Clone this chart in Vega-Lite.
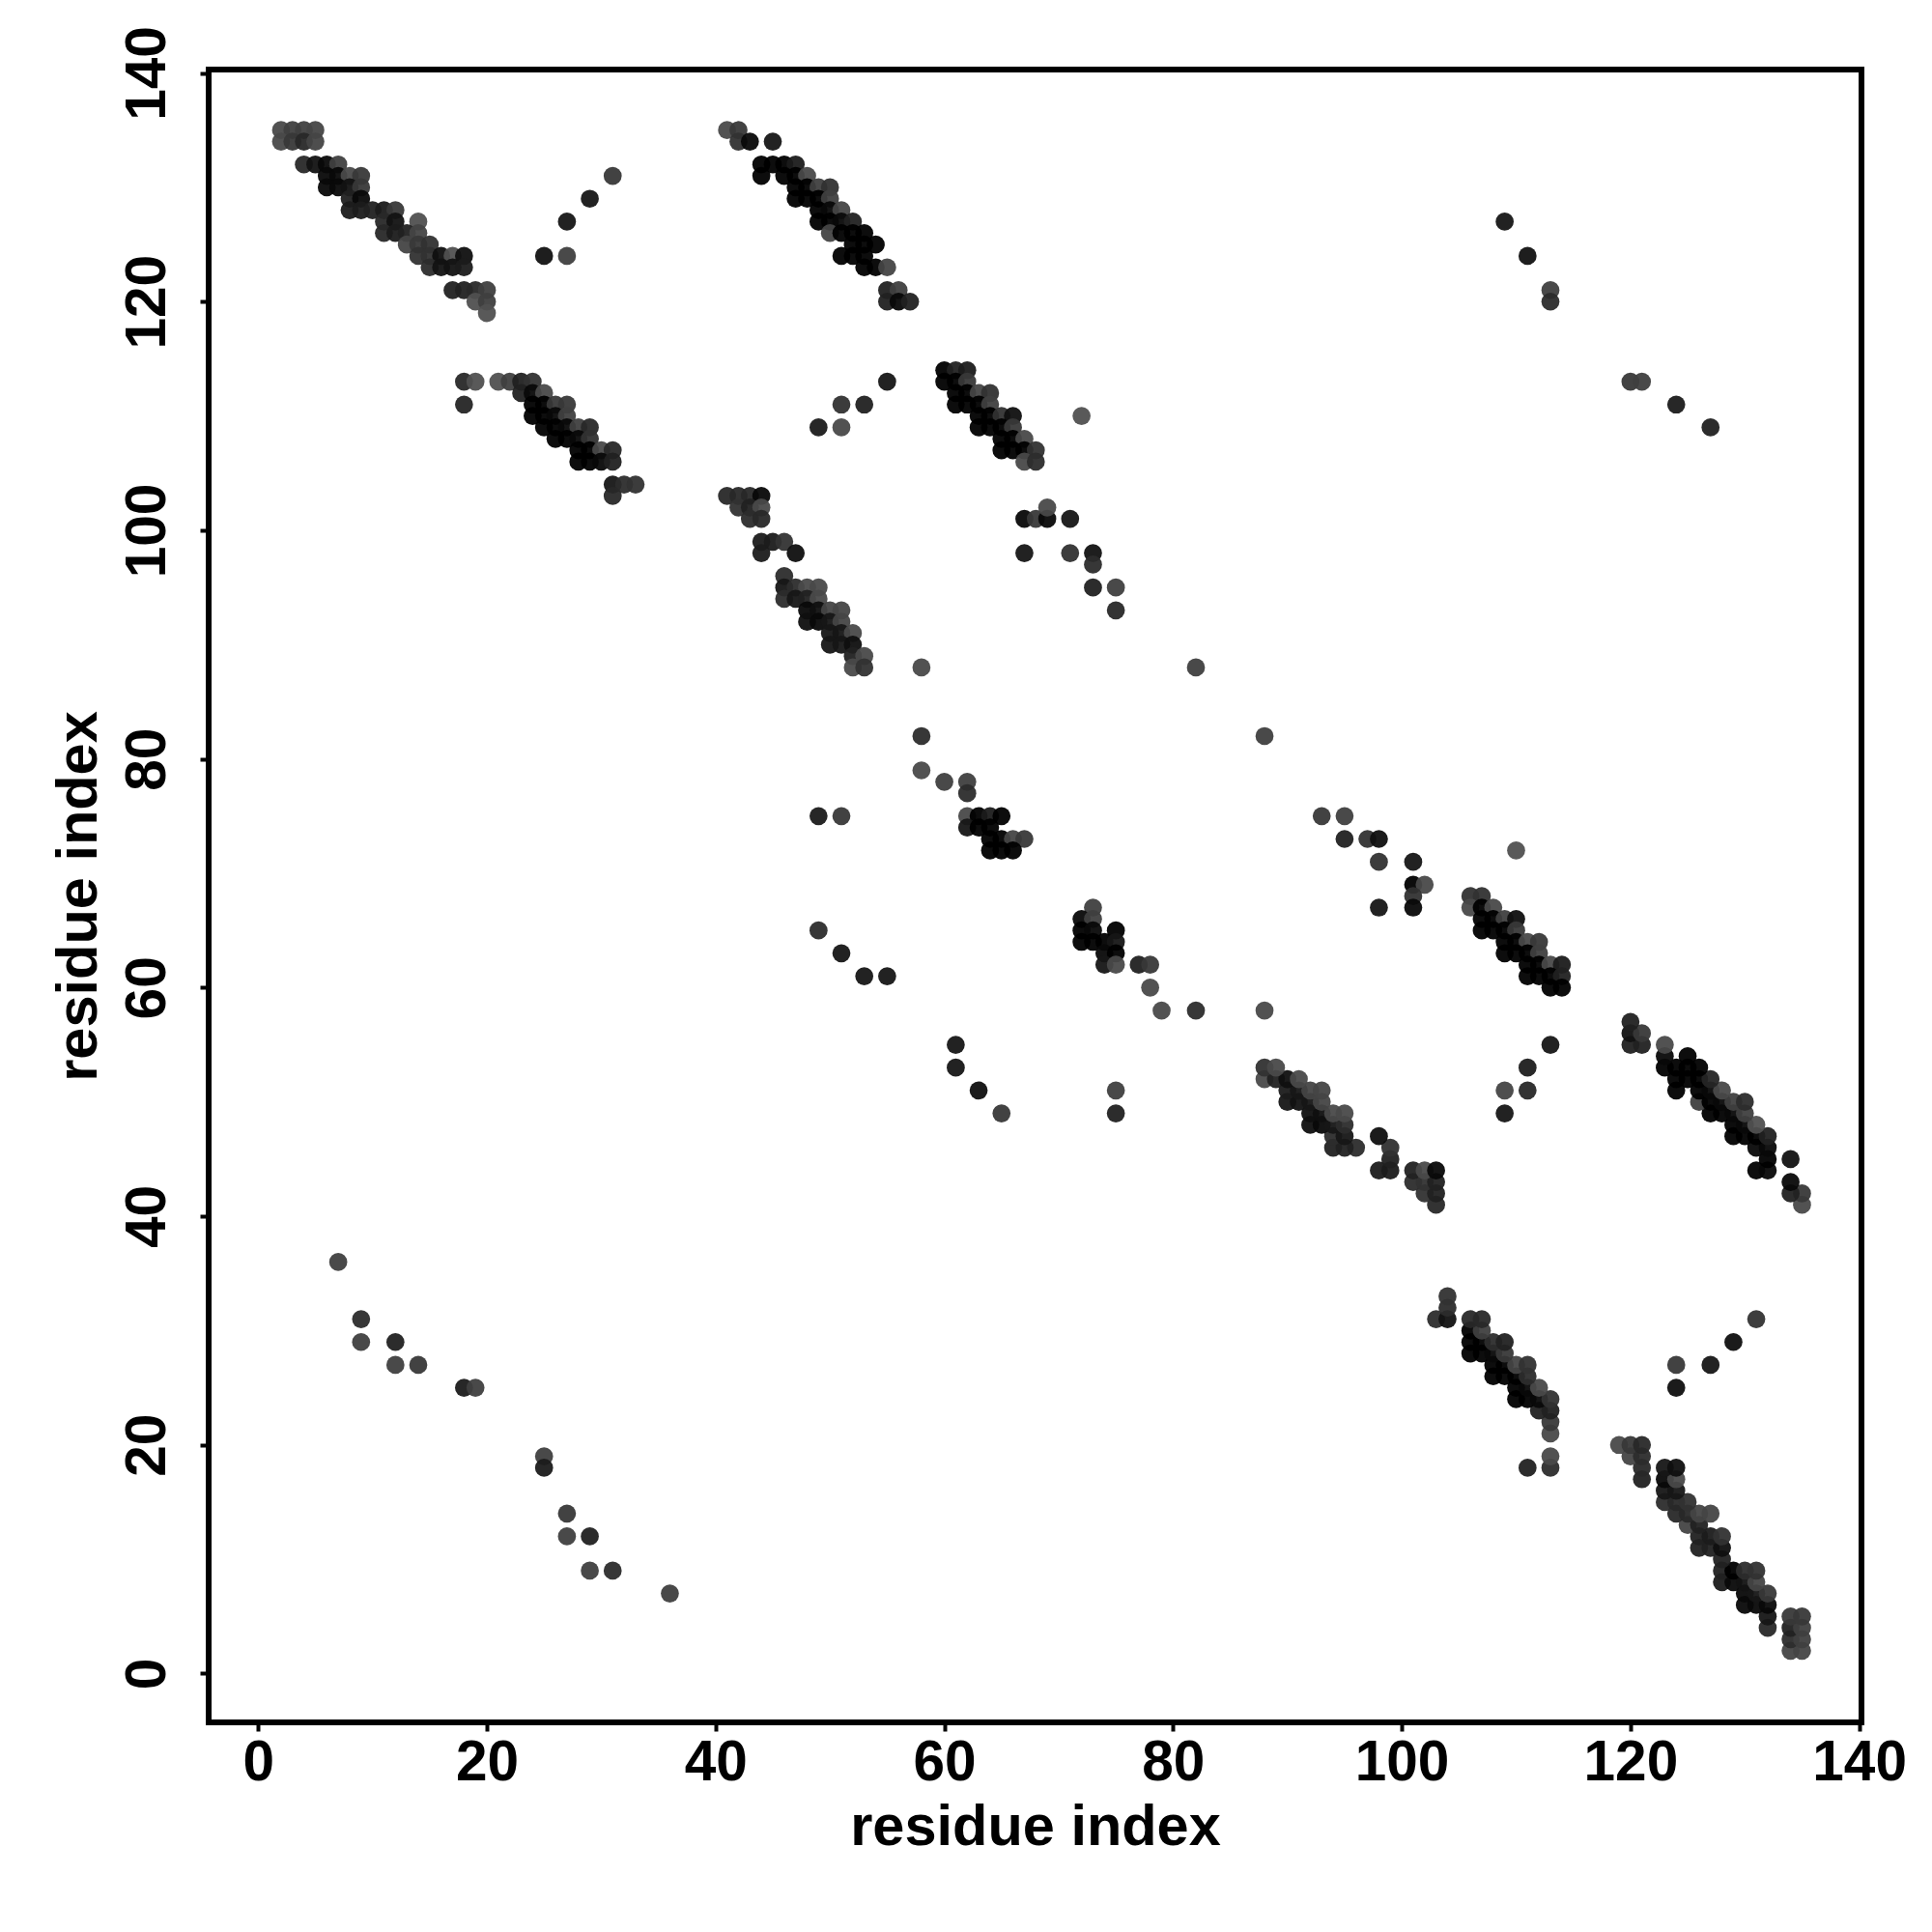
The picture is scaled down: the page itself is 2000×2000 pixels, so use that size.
{"$schema":"https://vega.github.io/schema/vega-lite/v6.json","width":1711,"height":1711,"autosize":{"type":"none"},"padding":{"left":216,"top":72,"right":73,"bottom":217},"background":"white","config":{"view":{"stroke":"black","strokeWidth":6,"fill":"white"}},
"data":{"values":[
{"x":2,"y":135,"p":0.68},{"x":3,"y":135,"p":0.72},{"x":4,"y":135,"p":0.72},{"x":5,"y":135,"p":0.7},{"x":2,"y":134,"p":0.68},{"x":3,"y":134,"p":0.75},{"x":4,"y":134,"p":0.82},{"x":5,"y":134,"p":0.7},
{"x":4,"y":132,"p":0.82},{"x":5,"y":132,"p":0.92},{"x":6,"y":132,"p":0.95},{"x":7,"y":132,"p":0.72},{"x":6,"y":131,"p":0.95},{"x":7,"y":131,"p":0.95},{"x":8,"y":131,"p":0.68},{"x":9,"y":131,"p":0.75},{"x":6,"y":130,"p":0.95},{"x":7,"y":130,"p":0.95},{"x":8,"y":130,"p":0.92},{"x":9,"y":130,"p":0.75},{"x":8,"y":129,"p":0.85},{"x":9,"y":129,"p":0.95},
{"x":8,"y":128,"p":0.88},{"x":9,"y":128,"p":0.88},{"x":10,"y":128,"p":0.85},{"x":11,"y":128,"p":0.88},{"x":12,"y":128,"p":0.75},{"x":11,"y":127,"p":0.82},{"x":12,"y":127,"p":0.92},{"x":14,"y":127,"p":0.65},{"x":11,"y":126,"p":0.82},{"x":12,"y":126,"p":0.88},{"x":13,"y":126,"p":0.85},{"x":14,"y":126,"p":0.7},{"x":13,"y":125,"p":0.7},{"x":14,"y":125,"p":0.75},{"x":15,"y":125,"p":0.78},
{"x":14,"y":124,"p":0.78},{"x":15,"y":124,"p":0.78},{"x":16,"y":124,"p":0.93},{"x":17,"y":124,"p":0.65},{"x":18,"y":124,"p":0.93},{"x":15,"y":123,"p":0.8},{"x":16,"y":123,"p":0.92},{"x":17,"y":123,"p":0.92},{"x":18,"y":123,"p":0.88},
{"x":17,"y":121,"p":0.85},{"x":18,"y":121,"p":0.85},{"x":19,"y":121,"p":0.82},{"x":20,"y":121,"p":0.72},{"x":19,"y":120,"p":0.65},{"x":20,"y":120,"p":0.72},{"x":20,"y":119,"p":0.65},
{"x":31,"y":131,"p":0.75},{"x":29,"y":129,"p":0.9},{"x":27,"y":127,"p":0.9},{"x":25,"y":124,"p":0.92},{"x":27,"y":124,"p":0.72},
{"x":18,"y":113,"p":0.82},{"x":19,"y":113,"p":0.65},{"x":21,"y":113,"p":0.65},{"x":22,"y":113,"p":0.72},{"x":23,"y":113,"p":0.85},{"x":24,"y":113,"p":0.78},{"x":18,"y":111,"p":0.83},{"x":23,"y":112,"p":0.85},{"x":24,"y":112,"p":0.95},{"x":25,"y":112,"p":0.68},{"x":24,"y":111,"p":0.97},{"x":25,"y":111,"p":0.97},{"x":26,"y":111,"p":0.75},{"x":27,"y":111,"p":0.75},{"x":24,"y":110,"p":0.97},{"x":25,"y":110,"p":0.97},{"x":26,"y":110,"p":0.95},{"x":27,"y":110,"p":0.72},
{"x":25,"y":109,"p":0.97},{"x":26,"y":109,"p":0.97},{"x":27,"y":109,"p":0.95},{"x":28,"y":109,"p":0.72},{"x":29,"y":109,"p":0.82},{"x":26,"y":108,"p":0.97},{"x":27,"y":108,"p":0.97},{"x":28,"y":108,"p":0.95},{"x":29,"y":108,"p":0.78},{"x":28,"y":107,"p":0.97},{"x":29,"y":107,"p":0.97},{"x":30,"y":107,"p":0.68},{"x":31,"y":107,"p":0.82},{"x":28,"y":106,"p":0.97},{"x":29,"y":106,"p":0.97},{"x":30,"y":106,"p":0.95},{"x":31,"y":106,"p":0.85},{"x":31,"y":104,"p":0.9},{"x":32,"y":104,"p":0.8},{"x":33,"y":104,"p":0.78},{"x":31,"y":103,"p":0.82},
{"x":41,"y":135,"p":0.68},{"x":42,"y":135,"p":0.75},{"x":42,"y":134,"p":0.78},{"x":43,"y":134,"p":0.95},{"x":45,"y":134,"p":0.9},{"x":44,"y":132,"p":0.97},{"x":45,"y":132,"p":0.97},{"x":46,"y":132,"p":0.97},{"x":47,"y":132,"p":0.88},{"x":44,"y":131,"p":0.97},{"x":46,"y":131,"p":0.97},{"x":47,"y":131,"p":0.97},{"x":48,"y":131,"p":0.68},{"x":47,"y":130,"p":0.97},{"x":48,"y":130,"p":0.97},{"x":49,"y":130,"p":0.72},{"x":50,"y":130,"p":0.78},{"x":47,"y":129,"p":0.97},{"x":48,"y":129,"p":0.97},{"x":49,"y":129,"p":0.97},{"x":50,"y":129,"p":0.72},
{"x":49,"y":128,"p":0.97},{"x":50,"y":128,"p":0.95},{"x":51,"y":128,"p":0.7},{"x":49,"y":127,"p":0.97},{"x":50,"y":127,"p":0.97},{"x":51,"y":127,"p":0.95},{"x":52,"y":127,"p":0.85},{"x":50,"y":126,"p":0.7},{"x":51,"y":126,"p":0.97},{"x":52,"y":126,"p":0.97},{"x":53,"y":126,"p":0.97},{"x":52,"y":125,"p":0.97},{"x":53,"y":125,"p":0.97},{"x":54,"y":125,"p":0.97},{"x":51,"y":124,"p":0.97},{"x":52,"y":124,"p":0.97},{"x":53,"y":124,"p":0.97},{"x":53,"y":123,"p":0.97},{"x":54,"y":123,"p":0.97},{"x":55,"y":123,"p":0.7},{"x":55,"y":121,"p":0.85},{"x":56,"y":121,"p":0.72},{"x":55,"y":120,"p":0.85},{"x":56,"y":120,"p":0.95},{"x":57,"y":120,"p":0.85},
{"x":55,"y":113,"p":0.9},{"x":51,"y":111,"p":0.78},{"x":53,"y":111,"p":0.85},{"x":49,"y":109,"p":0.88},{"x":51,"y":109,"p":0.68},{"x":72,"y":110,"p":0.65},
{"x":60,"y":114,"p":0.97},{"x":61,"y":114,"p":0.85},{"x":62,"y":114,"p":0.88},{"x":60,"y":113,"p":0.97},{"x":61,"y":113,"p":0.97},{"x":62,"y":113,"p":0.75},{"x":61,"y":112,"p":0.97},{"x":62,"y":112,"p":0.97},{"x":63,"y":112,"p":0.7},{"x":64,"y":112,"p":0.78},{"x":61,"y":111,"p":0.97},{"x":62,"y":111,"p":0.97},{"x":63,"y":111,"p":0.97},{"x":64,"y":111,"p":0.72},{"x":63,"y":110,"p":0.97},{"x":64,"y":110,"p":0.97},{"x":65,"y":110,"p":0.78},{"x":66,"y":110,"p":0.93},{"x":63,"y":109,"p":0.97},{"x":64,"y":109,"p":0.97},{"x":65,"y":109,"p":0.97},{"x":66,"y":109,"p":0.75},{"x":65,"y":108,"p":0.97},{"x":66,"y":108,"p":0.97},{"x":67,"y":108,"p":0.68},{"x":65,"y":107,"p":0.97},{"x":66,"y":107,"p":0.97},{"x":67,"y":107,"p":0.97},{"x":68,"y":107,"p":0.78},{"x":67,"y":106,"p":0.68},{"x":68,"y":106,"p":0.8},
{"x":41,"y":103,"p":0.82},{"x":42,"y":103,"p":0.82},{"x":43,"y":103,"p":0.82},{"x":44,"y":103,"p":0.95},{"x":42,"y":102,"p":0.78},{"x":43,"y":102,"p":0.85},{"x":44,"y":102,"p":0.68},{"x":43,"y":101,"p":0.8},{"x":44,"y":101,"p":0.82},{"x":44,"y":99,"p":0.88},{"x":45,"y":99,"p":0.88},{"x":46,"y":99,"p":0.77},{"x":44,"y":98,"p":0.88},{"x":47,"y":98,"p":0.93},
{"x":67,"y":101,"p":0.95},{"x":68,"y":101,"p":0.75},{"x":69,"y":101,"p":0.95},{"x":71,"y":101,"p":0.9},{"x":69,"y":102,"p":0.68},{"x":67,"y":98,"p":0.9},{"x":71,"y":98,"p":0.78},{"x":73,"y":98,"p":0.92},{"x":73,"y":97,"p":0.8},{"x":73,"y":95,"p":0.85},{"x":75,"y":95,"p":0.72},{"x":75,"y":93,"p":0.82},
{"x":46,"y":96,"p":0.8},{"x":46,"y":95,"p":0.9},{"x":47,"y":95,"p":0.8},{"x":48,"y":95,"p":0.68},{"x":49,"y":95,"p":0.68},{"x":46,"y":94,"p":0.8},{"x":47,"y":94,"p":0.9},{"x":48,"y":94,"p":0.85},{"x":49,"y":94,"p":0.68},{"x":48,"y":93,"p":0.95},{"x":49,"y":93,"p":0.93},{"x":50,"y":93,"p":0.7},{"x":51,"y":93,"p":0.7},{"x":48,"y":92,"p":0.93},{"x":49,"y":92,"p":0.95},{"x":50,"y":92,"p":0.9},{"x":51,"y":92,"p":0.7},{"x":50,"y":91,"p":0.9},{"x":51,"y":91,"p":0.9},{"x":52,"y":91,"p":0.68},{"x":50,"y":90,"p":0.9},{"x":51,"y":90,"p":0.9},{"x":52,"y":90,"p":0.93},{"x":52,"y":89,"p":0.85},{"x":53,"y":89,"p":0.68},{"x":52,"y":88,"p":0.68},{"x":53,"y":88,"p":0.78},
{"x":58,"y":88,"p":0.68},{"x":82,"y":88,"p":0.72},{"x":58,"y":82,"p":0.8},{"x":58,"y":79,"p":0.68},{"x":60,"y":78,"p":0.72},{"x":62,"y":78,"p":0.72},{"x":62,"y":77,"p":0.8},{"x":49,"y":75,"p":0.88},{"x":51,"y":75,"p":0.75},{"x":62,"y":75,"p":0.68},{"x":63,"y":75,"p":0.97},{"x":64,"y":75,"p":0.88},{"x":65,"y":75,"p":0.97},{"x":62,"y":74,"p":0.9},{"x":63,"y":74,"p":0.97},{"x":64,"y":74,"p":0.97},{"x":64,"y":73,"p":0.97},{"x":65,"y":73,"p":0.97},{"x":66,"y":73,"p":0.7},{"x":67,"y":73,"p":0.75},{"x":64,"y":72,"p":0.97},{"x":65,"y":72,"p":0.97},{"x":66,"y":72,"p":0.97},{"x":49,"y":65,"p":0.8},{"x":51,"y":63,"p":0.9},{"x":53,"y":61,"p":0.9},{"x":55,"y":61,"p":0.9},
{"x":134,"y":2,"p":0.7},{"x":135,"y":2,"p":0.7},{"x":134,"y":3,"p":0.8},{"x":135,"y":3,"p":0.72},{"x":134,"y":4,"p":0.85},{"x":135,"y":4,"p":0.72},{"x":132,"y":4,"p":0.82},{"x":132,"y":5,"p":0.9},{"x":134,"y":5,"p":0.75},{"x":135,"y":5,"p":0.75},{"x":130,"y":6,"p":0.95},{"x":131,"y":6,"p":0.95},{"x":132,"y":6,"p":0.95},{"x":130,"y":7,"p":0.95},{"x":131,"y":7,"p":0.9},{"x":132,"y":7,"p":0.75},{"x":128,"y":8,"p":0.88},{"x":129,"y":8,"p":0.95},{"x":130,"y":8,"p":0.92},{"x":131,"y":8,"p":0.7},{"x":128,"y":9,"p":0.85},{"x":129,"y":9,"p":0.97},{"x":130,"y":9,"p":0.8},{"x":131,"y":9,"p":0.78},{"x":128,"y":10,"p":0.85},{"x":126,"y":11,"p":0.85},{"x":127,"y":11,"p":0.85},{"x":128,"y":11,"p":0.93},{"x":126,"y":12,"p":0.85},{"x":127,"y":12,"p":0.88},{"x":128,"y":12,"p":0.78},{"x":125,"y":13,"p":0.7},{"x":126,"y":13,"p":0.85},{"x":124,"y":14,"p":0.82},{"x":125,"y":14,"p":0.82},{"x":126,"y":14,"p":0.7},{"x":127,"y":14,"p":0.7},{"x":123,"y":15,"p":0.8},{"x":124,"y":15,"p":0.82},{"x":125,"y":15,"p":0.78},{"x":123,"y":16,"p":0.9},{"x":124,"y":16,"p":0.9},{"x":123,"y":17,"p":0.95},{"x":124,"y":17,"p":0.68},{"x":121,"y":17,"p":0.85},{"x":121,"y":18,"p":0.82},{"x":123,"y":18,"p":0.9},{"x":124,"y":18,"p":0.93},{"x":120,"y":19,"p":0.7},{"x":121,"y":19,"p":0.8},{"x":119,"y":20,"p":0.68},{"x":120,"y":20,"p":0.75},{"x":121,"y":20,"p":0.82},
{"x":131,"y":31,"p":0.77},{"x":129,"y":29,"p":0.93},{"x":127,"y":27,"p":0.9},{"x":124,"y":27,"p":0.75},{"x":124,"y":25,"p":0.93},
{"x":113,"y":18,"p":0.8},{"x":111,"y":18,"p":0.85},{"x":113,"y":19,"p":0.68},{"x":113,"y":21,"p":0.68},{"x":113,"y":22,"p":0.75},{"x":112,"y":23,"p":0.85},{"x":113,"y":23,"p":0.85},{"x":110,"y":24,"p":0.97},{"x":111,"y":24,"p":0.97},{"x":112,"y":24,"p":0.95},{"x":113,"y":24,"p":0.78},{"x":110,"y":25,"p":0.97},{"x":111,"y":25,"p":0.95},{"x":112,"y":25,"p":0.68},{"x":108,"y":26,"p":0.97},{"x":109,"y":26,"p":0.97},{"x":110,"y":26,"p":0.97},{"x":111,"y":26,"p":0.8},{"x":108,"y":27,"p":0.97},{"x":109,"y":27,"p":0.97},{"x":110,"y":27,"p":0.7},{"x":111,"y":27,"p":0.78},{"x":106,"y":28,"p":0.97},{"x":107,"y":28,"p":0.97},{"x":108,"y":28,"p":0.95},{"x":109,"y":28,"p":0.75},{"x":106,"y":29,"p":0.97},{"x":107,"y":29,"p":0.97},{"x":108,"y":29,"p":0.8},{"x":109,"y":29,"p":0.85},{"x":106,"y":30,"p":0.97},{"x":107,"y":30,"p":0.72},{"x":106,"y":31,"p":0.82},{"x":107,"y":31,"p":0.82},{"x":103,"y":31,"p":0.8},{"x":104,"y":31,"p":0.92},{"x":104,"y":32,"p":0.8},{"x":104,"y":33,"p":0.78},
{"x":135,"y":41,"p":0.68},{"x":135,"y":42,"p":0.75},{"x":134,"y":42,"p":0.85},{"x":134,"y":43,"p":0.95},{"x":134,"y":45,"p":0.92},{"x":131,"y":44,"p":0.97},{"x":132,"y":44,"p":0.95},{"x":132,"y":45,"p":0.97},{"x":131,"y":46,"p":0.95},{"x":132,"y":46,"p":0.95},{"x":129,"y":47,"p":0.97},{"x":130,"y":47,"p":0.97},{"x":131,"y":47,"p":0.97},{"x":132,"y":47,"p":0.85},{"x":129,"y":48,"p":0.97},{"x":130,"y":48,"p":0.95},{"x":131,"y":48,"p":0.65},{"x":127,"y":49,"p":0.97},{"x":128,"y":49,"p":0.97},{"x":129,"y":49,"p":0.95},{"x":130,"y":49,"p":0.72},{"x":126,"y":50,"p":0.72},{"x":127,"y":50,"p":0.97},{"x":128,"y":50,"p":0.95},{"x":129,"y":50,"p":0.72},{"x":130,"y":50,"p":0.8},{"x":124,"y":51,"p":0.97},{"x":126,"y":51,"p":0.97},{"x":127,"y":51,"p":0.95},{"x":128,"y":51,"p":0.68},{"x":124,"y":52,"p":0.97},{"x":125,"y":52,"p":0.97},{"x":126,"y":52,"p":0.97},{"x":127,"y":52,"p":0.83},{"x":123,"y":53,"p":0.97},{"x":124,"y":53,"p":0.97},{"x":125,"y":53,"p":0.97},{"x":126,"y":53,"p":0.97},{"x":123,"y":54,"p":0.95},{"x":125,"y":54,"p":0.97},{"x":123,"y":55,"p":0.68},{"x":120,"y":55,"p":0.85},{"x":121,"y":55,"p":0.85},{"x":120,"y":56,"p":0.92},{"x":121,"y":56,"p":0.75},{"x":120,"y":57,"p":0.85},
{"x":113,"y":55,"p":0.9},{"x":111,"y":53,"p":0.87},{"x":109,"y":51,"p":0.7},{"x":111,"y":51,"p":0.82},{"x":109,"y":49,"p":0.9},{"x":110,"y":72,"p":0.65},
{"x":106,"y":68,"p":0.78},{"x":107,"y":68,"p":0.78},{"x":106,"y":67,"p":0.68},{"x":107,"y":67,"p":0.97},{"x":108,"y":67,"p":0.68},{"x":107,"y":66,"p":0.97},{"x":108,"y":66,"p":0.97},{"x":109,"y":66,"p":0.72},{"x":110,"y":66,"p":0.93},{"x":107,"y":65,"p":0.97},{"x":108,"y":65,"p":0.97},{"x":109,"y":65,"p":0.97},{"x":110,"y":65,"p":0.75},{"x":109,"y":64,"p":0.97},{"x":110,"y":64,"p":0.97},{"x":111,"y":64,"p":0.68},{"x":112,"y":64,"p":0.75},{"x":109,"y":63,"p":0.97},{"x":110,"y":63,"p":0.97},{"x":111,"y":63,"p":0.97},{"x":112,"y":63,"p":0.72},{"x":111,"y":62,"p":0.97},{"x":112,"y":62,"p":0.97},{"x":113,"y":62,"p":0.68},{"x":114,"y":62,"p":0.88},{"x":111,"y":61,"p":0.97},{"x":112,"y":61,"p":0.97},{"x":113,"y":61,"p":0.97},{"x":114,"y":61,"p":0.85},{"x":113,"y":60,"p":0.97},{"x":114,"y":60,"p":0.97},
{"x":103,"y":41,"p":0.82},{"x":102,"y":42,"p":0.78},{"x":103,"y":42,"p":0.85},{"x":101,"y":43,"p":0.8},{"x":102,"y":43,"p":0.78},{"x":103,"y":43,"p":0.85},{"x":101,"y":44,"p":0.85},{"x":102,"y":44,"p":0.68},{"x":103,"y":44,"p":0.95},{"x":98,"y":44,"p":0.88},{"x":99,"y":44,"p":0.88},{"x":99,"y":45,"p":0.85},{"x":99,"y":46,"p":0.78},{"x":98,"y":47,"p":0.93},
{"x":98,"y":71,"p":0.78},{"x":101,"y":71,"p":0.9},{"x":101,"y":69,"p":0.97},{"x":102,"y":69,"p":0.68},{"x":101,"y":68,"p":0.78},{"x":101,"y":67,"p":0.95},{"x":98,"y":67,"p":0.9},{"x":97,"y":73,"p":0.78},{"x":98,"y":73,"p":0.93},{"x":93,"y":75,"p":0.75},{"x":95,"y":75,"p":0.72},{"x":95,"y":73,"p":0.85},
{"x":96,"y":46,"p":0.8},{"x":94,"y":46,"p":0.85},{"x":95,"y":46,"p":0.85},{"x":94,"y":47,"p":0.8},{"x":95,"y":47,"p":0.9},{"x":92,"y":48,"p":0.93},{"x":93,"y":48,"p":0.95},{"x":94,"y":48,"p":0.9},{"x":95,"y":48,"p":0.8},{"x":92,"y":49,"p":0.93},{"x":93,"y":49,"p":0.93},{"x":94,"y":49,"p":0.68},{"x":95,"y":49,"p":0.68},{"x":90,"y":50,"p":0.9},{"x":91,"y":50,"p":0.92},{"x":92,"y":50,"p":0.9},{"x":93,"y":50,"p":0.7},{"x":90,"y":51,"p":0.88},{"x":91,"y":51,"p":0.9},{"x":92,"y":51,"p":0.7},{"x":93,"y":51,"p":0.7},{"x":88,"y":52,"p":0.68},{"x":89,"y":52,"p":0.85},{"x":90,"y":52,"p":0.93},{"x":91,"y":52,"p":0.68},{"x":88,"y":53,"p":0.78},{"x":89,"y":53,"p":0.68},
{"x":88,"y":58,"p":0.68},{"x":88,"y":82,"p":0.72},{"x":82,"y":58,"p":0.8},{"x":79,"y":58,"p":0.68},{"x":78,"y":60,"p":0.68},{"x":77,"y":62,"p":0.85},{"x":78,"y":62,"p":0.75},{"x":73,"y":67,"p":0.72},{"x":72,"y":66,"p":0.95},{"x":73,"y":66,"p":0.72},{"x":72,"y":65,"p":0.97},{"x":73,"y":65,"p":0.95},{"x":75,"y":65,"p":0.97},{"x":72,"y":64,"p":0.97},{"x":73,"y":64,"p":0.97},{"x":74,"y":64,"p":0.97},{"x":75,"y":64,"p":0.9},{"x":74,"y":63,"p":0.95},{"x":75,"y":63,"p":0.97},{"x":74,"y":62,"p":0.9},{"x":75,"y":62,"p":0.68},
{"x":61,"y":55,"p":0.9},{"x":61,"y":53,"p":0.9},{"x":63,"y":51,"p":0.93},{"x":65,"y":49,"p":0.75},{"x":75,"y":51,"p":0.72},{"x":75,"y":49,"p":0.85},
{"x":7,"y":36,"p":0.72},{"x":9,"y":31,"p":0.8},{"x":9,"y":29,"p":0.72},{"x":12,"y":29,"p":0.85},{"x":12,"y":27,"p":0.72},{"x":14,"y":27,"p":0.75},{"x":18,"y":25,"p":0.88},{"x":19,"y":25,"p":0.72},{"x":25,"y":19,"p":0.72},{"x":25,"y":18,"p":0.88},{"x":27,"y":14,"p":0.75},{"x":27,"y":12,"p":0.72},{"x":29,"y":12,"p":0.85},{"x":29,"y":9,"p":0.72},{"x":31,"y":9,"p":0.8},{"x":36,"y":7,"p":0.72},
{"x":109,"y":127,"p":0.9},{"x":111,"y":124,"p":0.92},{"x":113,"y":121,"p":0.72},{"x":113,"y":120,"p":0.8},{"x":120,"y":113,"p":0.75},{"x":121,"y":113,"p":0.72},{"x":124,"y":111,"p":0.88},{"x":127,"y":109,"p":0.85}
]},
"mark":{"type":"circle","size":350,"opacity":0.95,"clip":false},
"encoding":{
"x":{"field":"x","type":"quantitative","scale":{"domain":[-4.33,140.2],"nice":false,"zero":false},"axis":{"values":[0,20,40,60,80,100,120,140],"grid":false,"domain":false,"tickColor":"black","tickWidth":4,"tickSize":9,"labelFont":"Liberation Sans","labelFontWeight":"bold","labelFontSize":58.5,"labelColor":"black","labelPadding":4,"labelOverlap":false,"labelFlush":false,"title":"residue index","titleFont":"Liberation Sans","titleFontWeight":"bold","titleFontSize":59.5,"titleColor":"black","titlePadding":9}},
"y":{"field":"y","type":"quantitative","scale":{"domain":[-4.27,140.3],"nice":false,"zero":false},"axis":{"values":[0,20,40,60,80,100,120,140],"grid":false,"domain":false,"tickColor":"black","tickWidth":4,"tickSize":9,"labelFont":"Liberation Sans","labelFontWeight":"bold","labelFontSize":58.5,"labelColor":"black","labelAngle":270,"labelAlign":"center","labelBaseline":"alphabetic","labelPadding":36.5,"labelOverlap":false,"labelFlush":false,"title":"residue index","titleFont":"Liberation Sans","titleFontWeight":"bold","titleFontSize":59.5,"titleColor":"black","titlePadding":12.5}},
"color":{"field":"p","type":"quantitative","scale":{"domain":[0.65,0.97],"range":["#505050","#000000"],"clamp":true},"legend":null},
"order":[{"field":"x","type":"quantitative"},{"field":"y","type":"quantitative"}]
}}
